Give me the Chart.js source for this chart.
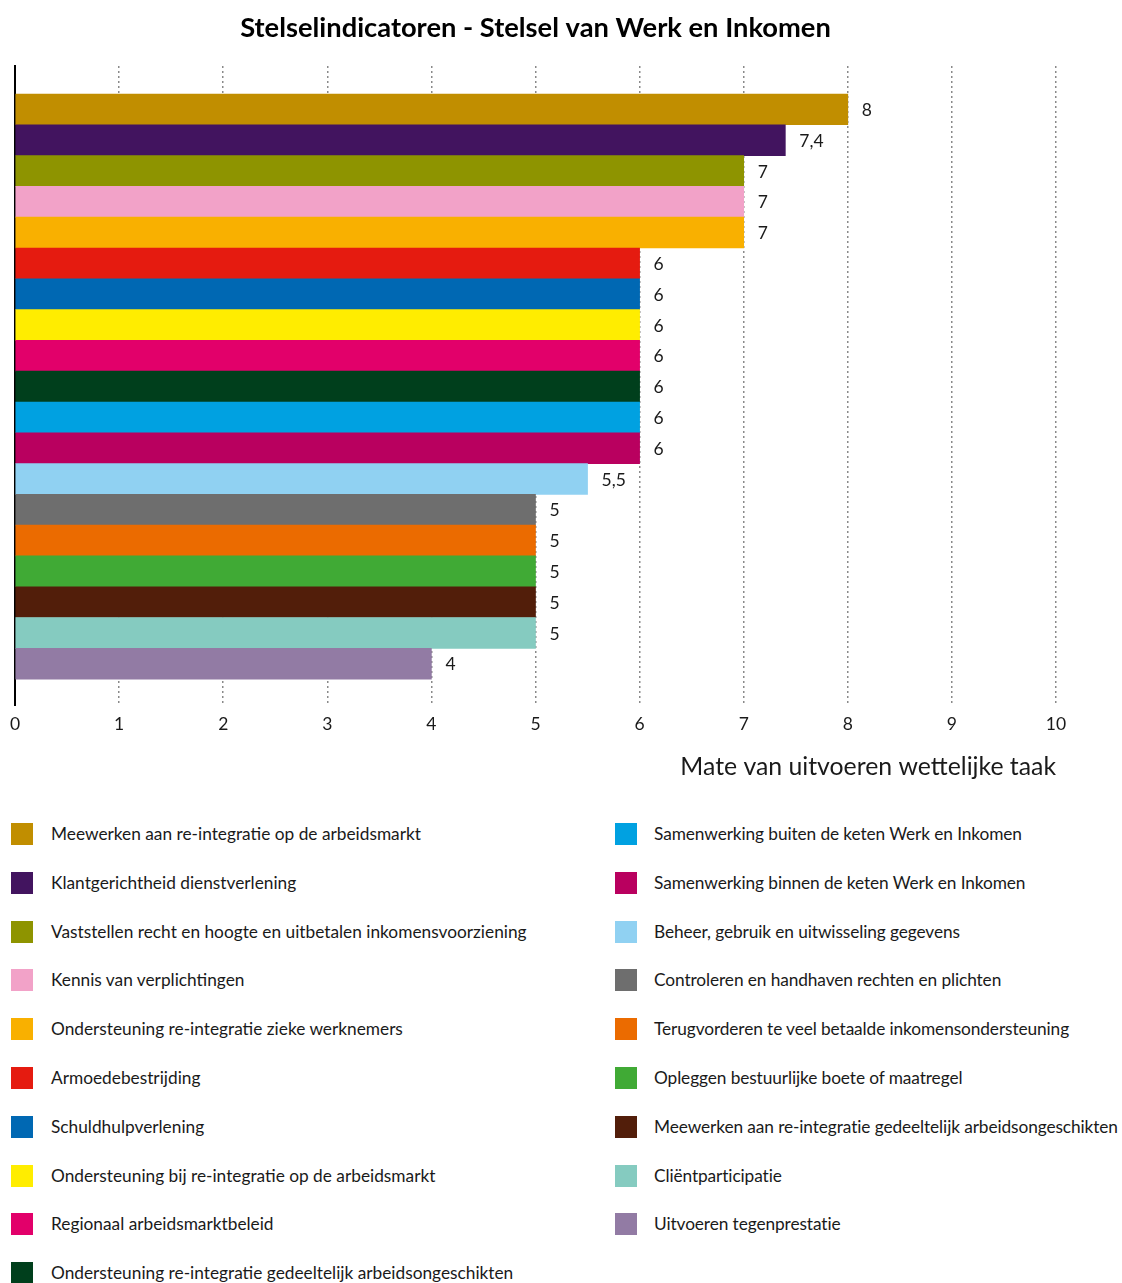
<!DOCTYPE html>
<html lang="nl">
<head>
<meta charset="utf-8">
<title>Stelselindicatoren - Stelsel van Werk en Inkomen</title>
<script src="https://cdn.jsdelivr.net/npm/chart.js@4/dist/chart.umd.min.js"></script>
<style>
  html, body { margin: 0; padding: 0; background: #ffffff; }
  #wrap { position: relative; width: 1122px; height: 1283px; overflow: hidden; }
  #chart { position: absolute; left: 0; top: 0; }
  .item { position: absolute; height: 22px; white-space: nowrap;
          font-family: Lato, "Noto Sans", sans-serif; font-size: 17.3px; color: #1a1a1a; }
  .item .sw { position: absolute; left: 0; top: 0; width: 22px; height: 22px; }
  .item .tx { position: absolute; top: 50%; transform: translateY(-50%); line-height: 1; }
</style>
</head>
<body>
<div id="wrap">
  <canvas id="chart" width="1070" height="782"></canvas>
  <div id="legend"></div>
</div>
<script>
// Indicators of the Werk en Inkomen system, top to bottom
const categories = [
  "Meewerken aan re-integratie op de arbeidsmarkt",
  "Klantgerichtheid dienstverlening",
  "Vaststellen recht en hoogte en uitbetalen inkomensvoorziening",
  "Kennis van verplichtingen",
  "Ondersteuning re-integratie zieke werknemers",
  "Armoedebestrijding",
  "Schuldhulpverlening",
  "Ondersteuning bij re-integratie op de arbeidsmarkt",
  "Regionaal arbeidsmarktbeleid",
  "Ondersteuning re-integratie gedeeltelijk arbeidsongeschikten",
  "Samenwerking buiten de keten Werk en Inkomen",
  "Samenwerking binnen de keten Werk en Inkomen",
  "Beheer, gebruik en uitwisseling gegevens",
  "Controleren en handhaven rechten en plichten",
  "Terugvorderen te veel betaalde inkomensondersteuning",
  "Opleggen bestuurlijke boete of maatregel",
  "Meewerken aan re-integratie gedeeltelijk arbeidsongeschikten",
  "Cliëntparticipatie",
  "Uitvoeren tegenprestatie"
];

// Score per indicator (scale 0-10)
const scores = [8, 7.4, 7, 7, 7, 6, 6, 6, 6, 6, 6, 6, 5.5, 5, 5, 5, 5, 5, 4];

const barColors = [
  "#c18e00", "#42145f", "#8e9400", "#f2a2c8", "#f9b000",
  "#e51b10", "#0068b3", "#ffed00", "#e2006a", "#003f1c",
  "#00a1e1", "#b9005f", "#90d1f2", "#6e6e6e", "#eb6b00",
  "#40aa35", "#521e0a", "#85cbc0", "#927ba4"
];

const xTicks = [0, 1, 2, 3, 4, 5, 6, 7, 8, 9, 10];
const chartTitle = "Stelselindicatoren - Stelsel van Werk en Inkomen";
const xAxisTitle = "Mate van uitvoeren wettelijke taak";

const textColor = "#1a1a1a";
const fontFamily = "Lato, 'Noto Sans', sans-serif";

// Writes each bar's score just right of its end, Dutch decimal comma
const valueLabels = {
  id: "valueLabels",
  afterDatasetsDraw(chart) {
    const ctx = chart.ctx;
    const meta = chart.getDatasetMeta(0);
    ctx.save();
    ctx.font = "17.5px " + fontFamily;
    ctx.fillStyle = textColor;
    ctx.textAlign = "left";
    ctx.textBaseline = "middle";
    meta.data.forEach((bar, i) => {
      const txt = String(scores[i]).replace(".", ",");
      ctx.fillText(txt, bar.x + 14, bar.y + 1);
    });
    ctx.restore();
  }
};

const points = scores.map((v, i) => ({ x: v, y: i }));

new Chart(document.getElementById("chart"), {
  type: "bar",
  data: {
    labels: categories,
    datasets: [{
      data: points,
      backgroundColor: barColors,
      borderWidth: 0,
      barPercentage: 1,
      categoryPercentage: 1
    }]
  },
  options: {
    indexAxis: "y",
    responsive: false,
    animation: false,
    devicePixelRatio: 1,
    layout: { padding: { left: 15, right: 14, top: 0, bottom: 0 } },
    plugins: {
      legend: { display: false },
      tooltip: { enabled: false },
      title: {
        display: true,
        text: chartTitle,
        color: "#000000",
        font: { family: fontFamily, size: 27.3, weight: "bold", lineHeight: 1.2 },
        padding: { top: 11.6, bottom: 21.6 }
      }
    },
    scales: {
      x: {
        type: "linear",
        min: 0,
        max: 10,
        afterBuildTicks(scale) { scale.ticks = xTicks.map(v => ({ value: v })); },
        afterFit(scale) {
          scale.height = 77;
          scale.paddingLeft = 0;
          scale.paddingRight = 0;
        },
        grid: {
          display: true,
          drawTicks: false,
          color: "#8a8a8a",
          lineWidth: 1.5
        },
        border: { display: false, dash: [2, 3] },
        ticks: {
          color: textColor,
          padding: 9,
          font: { family: fontFamily, size: 17.5 }
        },
        title: {
          display: true,
          text: xAxisTitle,
          align: "end",
          color: textColor,
          font: { family: fontFamily, size: 24.8 },
          padding: { top: 0, bottom: 0 }
        }
      },
      y: {
        type: "linear",
        reverse: true,
        offset: false,
        min: -1.41,
        max: 19.34,
        afterFit(scale) { scale.width = 0; },
        grid: { display: false },
        ticks: { display: false },
        border: { display: true, color: "#000000", width: 2 }
      }
    }
  },
  plugins: [valueLabels]
});

// Two-column legend, filled column by column
const legend = document.getElementById("legend");
const rowsPerColumn = 10;
const legendTop = 823;
const rowPitch = 48.8;
const columnLeft = [11, 615];
categories.forEach((name, i) => {
  const col = Math.floor(i / rowsPerColumn);
  const row = i % rowsPerColumn;
  const item = document.createElement("div");
  item.className = "item";
  item.style.left = columnLeft[col] + "px";
  item.style.top = (legendTop + row * rowPitch) + "px";
  const sw = document.createElement("span");
  sw.className = "sw";
  sw.style.background = barColors[i];
  const tx = document.createElement("span");
  tx.className = "tx";
  tx.style.left = (col === 0 ? 40 : 39) + "px";
  tx.style.letterSpacing = (col === 0 ? "0px" : "-0.1px");
  tx.textContent = name;
  item.appendChild(sw);
  item.appendChild(tx);
  legend.appendChild(item);
});
</script>
</body>
</html>
